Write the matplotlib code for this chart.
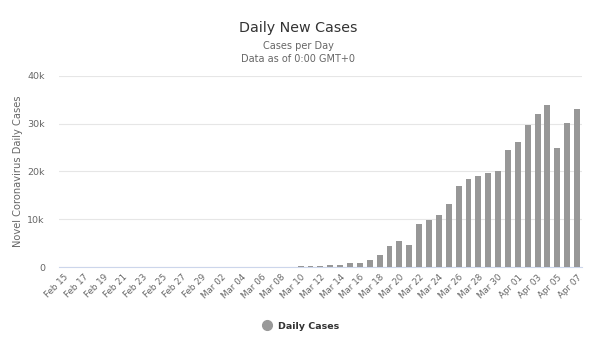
import matplotlib
matplotlib.use("Agg")
import matplotlib.pyplot as plt
import numpy as np
import pandas as pd

# daily new cases, Feb 15 .. Apr 07
dates = pd.date_range("2020-02-15", "2020-04-07", freq="D")
feb_cases = [0, 0, 0, 0, 0, 0, 1, 0, 0, 18, 0, 0, 1, 2, 6]          # Feb 15-29
mar_cases = [8, 25, 20, 31, 70, 88, 105, 116, 65, 280, 280, 290,    # Mar 01-12
             400, 500, 800, 900, 1500, 2600, 4400, 5400, 4600,       # Mar 13-21
             9100, 9950, 10900, 13200, 17000, 18400, 19100, 19600,   # Mar 22-29
             20000, 24400]                                           # Mar 30-31
apr_cases = [26200, 29600, 31900, 33900, 25000, 30100, 33000]        # Apr 01-07
cases = feb_cases + mar_cases + apr_cases

tick_labels = [d.strftime("%b %d") for d in dates]
y_ticks = [0, 10000, 20000, 30000, 40000]
y_tick_labels = ["0", "10k", "20k", "30k", "40k"]

plt.rcParams['font.family'] = ['DejaVu Sans']

fig = plt.figure(figsize=(6, 3.44), dpi=100)
ax = fig.add_axes([0.098, 0.223, 0.872, 0.557])

x = np.arange(len(cases))
ax.bar(x, cases, width=0.6, color='#979797', zorder=3, label='Daily Cases')

ax.set_xlim(-0.5, len(cases) - 0.5)
ax.set_ylim(0, 40000)
ax.set_yticks(y_ticks)
ax.set_yticklabels(y_tick_labels)
ax.set_xticks(x[::2])
ax.set_xticklabels(tick_labels[::2], rotation=45, ha='right', rotation_mode='anchor')

ax.tick_params(axis='x', length=0, labelsize=6.3, colors='#666666', pad=4)
ax.tick_params(axis='y', length=0, labelsize=6.8, colors='#666666', pad=10)

ax.grid(axis='y', color='#e6e6e6', linewidth=0.8, zorder=0)
for side in ['top', 'right', 'left']:
    ax.spines[side].set_visible(False)
ax.spines['bottom'].set_color('#ccd6eb')
ax.spines['bottom'].set_linewidth(0.8)

ax.set_ylabel('Novel Coronavirus Daily Cases', fontsize=7.1, color='#666666', labelpad=3)

fig.text(0.497, 0.92, 'Daily New Cases', ha='center', va='center', fontsize=10.3, color='#333333')
fig.text(0.497, 0.866, 'Cases per Day', ha='center', va='center', fontsize=7, color='#666666')
fig.text(0.497, 0.829, 'Data as of 0:00 GMT+0', ha='center', va='center', fontsize=7, color='#666666')

# legend below the axis
fig.legend(loc='center', bbox_to_anchor=(0.497, 0.052), frameon=False,
           handles=[plt.Line2D([], [], marker='o', linestyle='', markersize=7,
                               color='#999999')],
           labels=['Daily Cases'], prop={'size': 6.8, 'weight': 'bold'},
           labelcolor='#333333', handletextpad=0.2)

fig.savefig("out.png", dpi=100)
